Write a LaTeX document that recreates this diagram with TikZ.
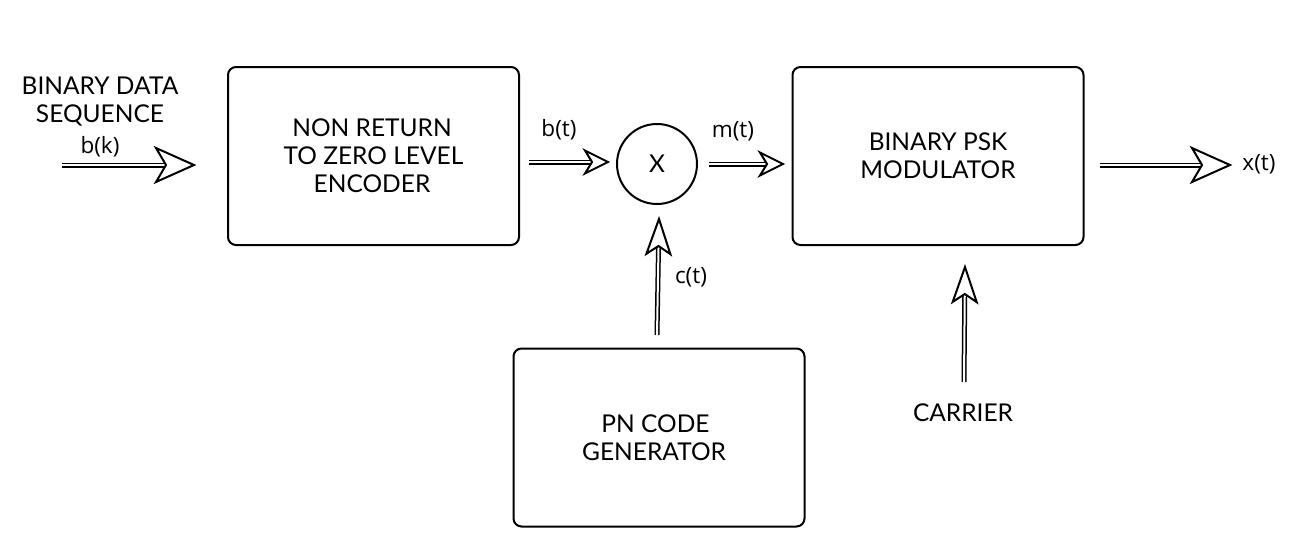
\documentclass[tikz,border=0pt]{standalone}
\usepackage{fontspec}
\setmainfont{Lato}
\newfontfamily\labelfont{Open Sans}
\usetikzlibrary{decorations.markings}
\tikzset{
  blk/.style={draw, line width=2pt, rounded corners=8pt, minimum width=291pt, minimum height=178pt, align=center, font=\fontsize{24.5}{28}\selectfont, inner sep=0pt},
  lbl/.style={font=\labelfont\fontsize{22.5}{26}\selectfont, inner sep=0pt},
  txt/.style={font=\fontsize{24.5}{28}\selectfont, align=center, inner sep=0pt},
  dbl/.style={draw, line width=1.5pt, double=white, double distance=2pt},
  headat/.style n args={3}{postaction={decorate, decoration={markings,
     mark=at position 1 with {\draw[line width=2pt, fill=white, line join=miter, miter limit=20]
        (0,0) -- (-#1,#2/2) -- (-#1+#3,0) -- (-#1,-#2/2) -- cycle;}}}},
  bigtip/.style={dbl, shorten >=27pt, headat={38}{34}{10}},
  smalltip/.style={dbl, shorten >=15pt, headat={23}{23}{7}},
  uptip/.style={dbl, shorten >=25pt, headat={35}{24}{8}}
}
\begin{document}
\begin{tikzpicture}[x=1pt, y=-1pt]
\useasboundingbox (0,0) rectangle (1302,549);
\node[blk] (nrz) at (373.5,156) {NON RETURN\hspace*{3pt}\\TO ZERO LEVEL\hspace*{3pt}\\ENCODER\hspace*{3pt}};
\node[blk] (psk) at (938,156) {BINARY PSK\\MODULATOR};
\node[blk] (pn) at (659,437.5) {PN CODE\hspace*{7pt}\\GENERATOR\hspace*{10pt}};
\node[draw, circle, line width=2pt, minimum size=80pt, inner sep=0pt, font=\fontsize{24.5}{28}\selectfont] (mix) at (657,164) {X};
\node[txt] (src) at (100,102) {BINARY DATA\\SEQUENCE};
\node[txt] (car) at (963,413) {CARRIER};
\coordinate (a1s) at (62,165); \coordinate (a1e) at (194,165);
\coordinate (a2s) at (529,162); \coordinate (a2e) at (608,162);
\coordinate (a3s) at (709,164); \coordinate (a3e) at (783,164);
\coordinate (a4s) at (1100,165); \coordinate (a4e) at (1230,165);
\coordinate (a5s) at (657,335); \coordinate (a5e) at (659,219);
\coordinate (a6s) at (964,382); \coordinate (a6e) at (965,267);
\draw[bigtip] (a1s) -- (a1e);
\draw[smalltip] (a2s) -- (a2e);
\draw[smalltip] (a3s) -- (a3e);
\draw[bigtip] (a4s) -- (a4e);
\draw[uptip] (a5s) -- (a5e);
\draw[uptip] (a6s) -- (a6e);
\node[lbl] (bk) at (100,147) {b(k)};
\node[lbl] (bt) at (559,130) {b(t)};
\node[lbl] (mt) at (733,131) {m(t)};
\node[lbl] (xt) at (1259,164) {x(t)};
\node[lbl] (ct) at (691,277) {c(t)};
\end{tikzpicture}
\end{document}
